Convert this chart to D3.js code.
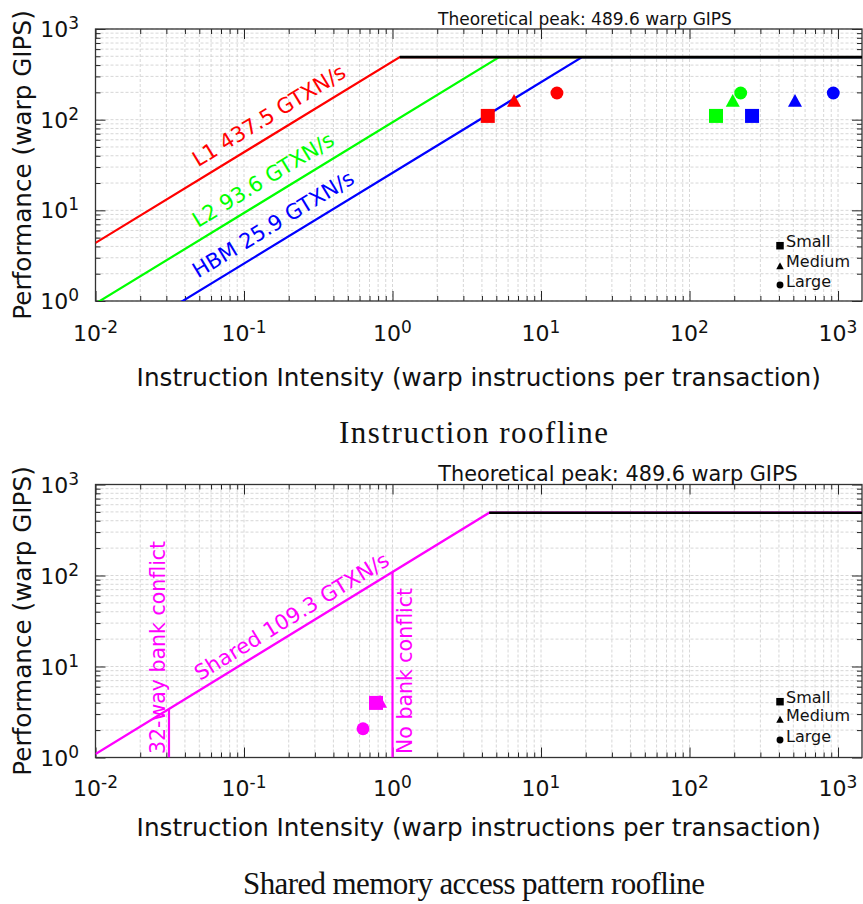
<!DOCTYPE html>
<html><head><meta charset="utf-8">
<script src="https://cdn.jsdelivr.net/npm/d3@7"></script>
<style>
body{margin:0;background:#fff}
text{font-family:"DejaVu Sans",Verdana,sans-serif}
</style>
</head><body>
<svg id="c" width="863" height="904"></svg>
<script>
// ---------- data ----------
const peakGIPS = 489.6;
const xTickValues = [0.01, 0.1, 1, 10, 100, 1000];
const xTickExponents = ["-2", "-1", "0", "1", "2", "3"];
const yTickValues = [1, 10, 100, 1000];
const yTickExponents = ["0", "1", "2", "3"];
const sizeNames = ["Small", "Medium", "Large"];
const sizeShapes = ["square", "triangle", "circle"];

// Instruction roofline
const memLevels = ["L1", "L2", "HBM"];
const memBandwidth = [437.5, 93.6, 25.9];
const memColors = ["#ff0000", "#00ff00", "#0000ff"];
const l1Intensity = [4.38, 6.58, 12.8];
const l2Intensity = [150.8, 195.4, 221];
const hbmIntensity = [263.6, 513, 929];
const instrPerf = [110, 163, 197];

// Shared memory roofline
const sharedBandwidth = 109.3;
const sharedColor = "#ff00ff";
const sharedIntensity = [0.774, 0.824, 0.633];
const sharedPerf = [3.98, 4.15, 2.07];
const bankConflictIntensity = [1 / 32, 1];
const bankConflictLabels = ["32-way bank conflict", "No bank conflict"];

const captions = ["Instruction roofline", "Shared memory access pattern roofline"];

// ---------- drawing ----------
const svg = d3.select("#c");
const X_MAX = 1450;

function shapePath(shape, s) {
  if (shape === "square") return `M${-s/2},${-s/2}h${s}v${s}h${-s}Z`;
  if (shape === "triangle") { const h = s * 0.92; return `M0,${-h/2}L${s/2},${h/2}L${-s/2},${h/2}Z`; }
  const r = s / 2 * 0.92;
  return `M${r},0A${r},${r} 0 1,1 ${-r},0A${r},${r} 0 1,1 ${r},0Z`;
}

function makePlot(cfg) {
  const g = svg.append("g");
  const x = d3.scaleLog().domain([0.01, X_MAX]).range([cfg.left, cfg.right]);
  const y = d3.scaleLog().domain([1, 1000]).range([cfg.bottom, cfg.top]);
  const clipId = "clip" + cfg.id;
  svg.append("clipPath").attr("id", clipId).append("rect")
    .attr("x", cfg.left).attr("y", cfg.top)
    .attr("width", cfg.right - cfg.left).attr("height", cfg.bottom - cfg.top);

  const xAll = [], yAll = [];
  for (let e = -2; e <= 3; e++) for (let d = 1; d <= 9; d++) { const v = +(d * Math.pow(10, e)).toPrecision(6); if (v <= X_MAX) xAll.push(v); }
  for (let e = 0; e <= 2; e++) for (let d = 1; d <= 9; d++) yAll.push(+(d * Math.pow(10, e)).toPrecision(6));
  yAll.push(1000);
  const xMinor = xAll.filter(v => !xTickValues.includes(v));
  const yMinor = yAll.filter(v => !yTickValues.includes(v));

  // grid
  const grid = g.append("g").attr("stroke", "#cdcdcd").attr("stroke-width", 0.8).attr("stroke-dasharray", "3,2");
  grid.selectAll(".gx").data(xAll).join("line")
    .attr("x1", d => x(d)).attr("x2", d => x(d)).attr("y1", cfg.top).attr("y2", cfg.bottom);
  grid.selectAll(".gy").data(yAll).join("line")
    .attr("y1", d => y(d)).attr("y2", d => y(d)).attr("x1", cfg.left).attr("x2", cfg.right);

  // ticks (inward, mirrored)
  const axes = [
    [d3.axisBottom(x), `translate(0,${cfg.bottom})`, xTickValues, xMinor],
    [d3.axisTop(x), `translate(0,${cfg.top})`, xTickValues, xMinor],
    [d3.axisLeft(y), `translate(${cfg.left},0)`, yTickValues, yMinor],
    [d3.axisRight(y), `translate(${cfg.right},0)`, yTickValues, yMinor]
  ];
  axes.forEach(([ax, tr, major, minor]) => {
    [[major, 10], [minor, 5]].forEach(([vals, len]) => {
      const a = g.append("g").attr("transform", tr)
        .call(ax.tickValues(vals).tickSize(-len).tickFormat(""));
      a.select(".domain").remove();
      a.selectAll("line").attr("stroke", "#222").attr("stroke-width", 1);
    });
  });

  g.append("rect").attr("x", cfg.left).attr("y", cfg.top)
    .attr("width", cfg.right - cfg.left).attr("height", cfg.bottom - cfg.top)
    .attr("fill", "none").attr("stroke", "#333").attr("stroke-width", 1.3);

  // tick labels
  xTickValues.forEach((v, i) => {
    const t = g.append("text").attr("x", x(v)).attr("y", cfg.bottom + cfg.xLabDy)
      .attr("text-anchor", "middle").attr("font-size", 22).attr("fill", "#111").text("10");
    t.append("tspan").attr("dy", -8).attr("font-size", 17).text(xTickExponents[i]);
  });
  yTickValues.forEach((v, i) => {
    const t = g.append("text").attr("x", 79).attr("y", y(v) + 8)
      .attr("text-anchor", "end").attr("font-size", 22).attr("fill", "#111").text("10");
    t.append("tspan").attr("dy", -8).attr("font-size", 17).text(yTickExponents[i]);
  });

  // axis titles
  g.append("text").attr("x", (cfg.left + cfg.right) / 2).attr("y", cfg.bottom + cfg.xTitleDy)
    .attr("text-anchor", "middle").attr("font-size", 24.7).attr("fill", "#111")
    .text("Instruction Intensity (warp instructions per transaction)");
  g.append("text").attr("transform", `translate(31,${(cfg.top + cfg.bottom) / 2}) rotate(-90)`)
    .attr("text-anchor", "middle").attr("font-size", 24.7).attr("fill", "#111")
    .text("Performance (warp GIPS)");

  // peak title
  g.append("text").attr("x", cfg.peakX).attr("y", cfg.top + cfg.peakDy)
    .attr("text-anchor", "middle").attr("font-size", cfg.peakSize).attr("fill", "#111")
    .text(`Theoretical peak: ${peakGIPS} warp GIPS`);

  // caption
  g.append("text").attr("x", cfg.capX).attr("y", cfg.capY)
    .attr("text-anchor", "middle").attr("font-size", 31)
    .attr("textLength", cfg.capLen).attr("lengthAdjust", "spacing")
    .style("font-family", "'Liberation Serif', serif").attr("fill", "#111")
    .text(cfg.caption);

  // legend
  sizeNames.forEach((name, i) => {
    const ly = cfg.bottom + cfg.legendDy[i];
    g.append("path").attr("d", shapePath(sizeShapes[i], 7.5)).attr("transform", `translate(780,${ly})`).attr("fill", "#000");
    g.append("text").attr("x", 786).attr("y", ly + 1.5).attr("font-size", 16).attr("fill", "#111").text(name);
  });

  return { g, x, y, clipId };
}

const angleOf = (x, y) => Math.atan2(y(1) - y(10), x(10) - x(1)) * 180 / Math.PI;

// ---- Plot 1: instruction roofline ----
const p1 = makePlot({ id: 1, left: 95.5, right: 862, top: 29, bottom: 301, xLabDy: 39.7, xTitleDy: 85,
  peakX: 585, peakDy: -4, peakSize: 17, capX: 473.5, capY: 443, capLen: 269, caption: captions[0],
  legendDy: [-55.3, -35.3, -16] });
{
  const { g, x, y, clipId } = p1;
  const ang = angleOf(x, y);
  const roofs = g.append("g").attr("clip-path", `url(#${clipId})`);
  memBandwidth.forEach((bw, i) => {
    const pts = [[0.01, bw * 0.01], [peakGIPS / bw, peakGIPS], [X_MAX, peakGIPS]];
    roofs.append("path").attr("d", d3.line().x(d => x(d[0])).y(d => y(d[1]))(pts))
      .attr("fill", "none").attr("stroke", memColors[i]).attr("stroke-width", 2.2);
  });
  const ridge = peakGIPS / d3.max(memBandwidth);
  roofs.append("path").attr("d", d3.line().x(d => x(d[0])).y(d => y(d[1]))([[ridge, peakGIPS], [X_MAX, peakGIPS]]))
    .attr("fill", "none").attr("stroke", "#000").attr("stroke-width", 2.6);
  memBandwidth.forEach((bw, i) => {
    const lx = 198, xv = x.invert(lx);
    g.append("text").attr("transform", `translate(${lx},${y(bw * xv) - 13}) rotate(${-ang})`)
      .attr("font-size", 21).attr("fill", memColors[i])
      .text(`${memLevels[i]} ${bw} GTXN/s`);
  });
  const series = [l1Intensity, l2Intensity, hbmIntensity];
  series.forEach((xs, si) => {
    [1, 0, 2].forEach(k => {
      g.append("path").attr("d", shapePath(sizeShapes[k], 14))
        .attr("transform", `translate(${x(xs[k])},${y(instrPerf[k])})`)
        .attr("fill", memColors[si]);
    });
  });
}

// ---- Plot 2: shared memory roofline ----
const p2 = makePlot({ id: 2, left: 95.5, right: 862, top: 484.5, bottom: 757.5, xLabDy: 38, xTitleDy: 78,
  peakX: 618, peakDy: -4, peakSize: 20.8, capX: 474, capY: 894, capLen: 462, caption: captions[1],
  legendDy: [-55.8, -38.2, -17.5] });
{
  const { g, x, y, clipId } = p2;
  const ang = angleOf(x, y);
  const roofs = g.append("g").attr("clip-path", `url(#${clipId})`);
  const ridge = peakGIPS / sharedBandwidth;
  roofs.append("path").attr("d", d3.line().x(d => x(d[0])).y(d => y(d[1]))([[0.01, sharedBandwidth * 0.01], [ridge, peakGIPS], [X_MAX, peakGIPS]]))
    .attr("fill", "none").attr("stroke", sharedColor).attr("stroke-width", 2.2);
  roofs.append("path").attr("d", d3.line().x(d => x(d[0])).y(d => y(d[1]))([[ridge, peakGIPS], [X_MAX, peakGIPS]]))
    .attr("fill", "none").attr("stroke", "#000").attr("stroke-width", 2.6);
  bankConflictIntensity.forEach((bi, i) => {
    roofs.append("line").attr("x1", x(bi)).attr("x2", x(bi)).attr("y1", y(1)).attr("y2", y(sharedBandwidth * bi))
      .attr("stroke", sharedColor).attr("stroke-width", 2.2);
  });
  const lx = 200, xv = x.invert(lx);
  g.append("text").attr("transform", `translate(${lx},${y(sharedBandwidth * xv) - 9}) rotate(${-ang})`)
    .attr("font-size", 21).attr("fill", sharedColor)
    .text(`Shared ${sharedBandwidth} GTXN/s`);
  g.append("text").attr("transform", `translate(${x(bankConflictIntensity[0]) - 4},754) rotate(-90)`)
    .attr("font-size", 20.5).attr("fill", sharedColor).text(bankConflictLabels[0]);
  g.append("text").attr("transform", `translate(${x(bankConflictIntensity[1]) + 19},754) rotate(-90)`)
    .attr("font-size", 20.5).attr("fill", sharedColor).text(bankConflictLabels[1]);
  [1, 0, 2].forEach(k => {
    g.append("path").attr("d", shapePath(sizeShapes[k], 14))
      .attr("transform", `translate(${x(sharedIntensity[k])},${y(sharedPerf[k])})`)
      .attr("fill", sharedColor);
  });
}
</script>
</body></html>
